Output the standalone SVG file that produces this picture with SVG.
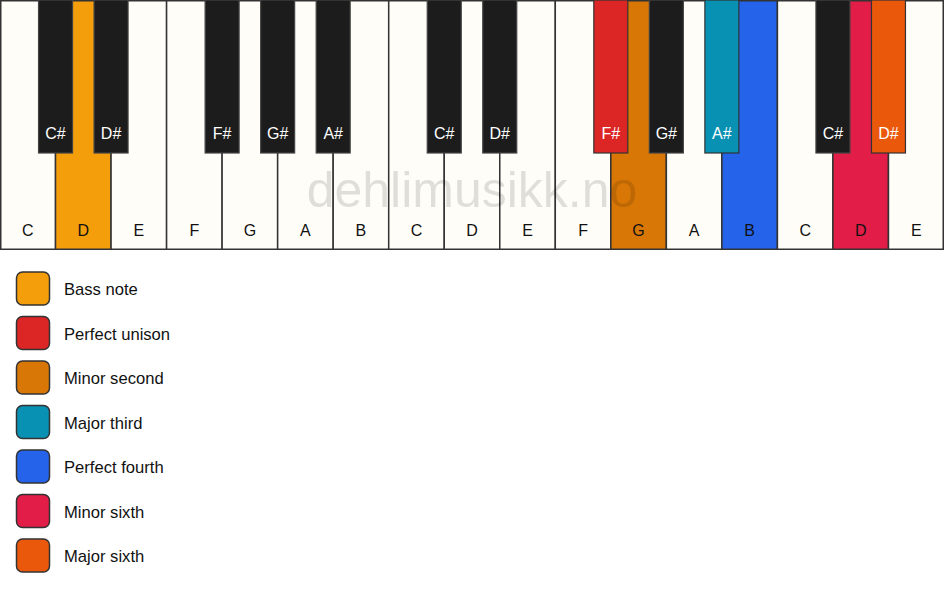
<svg xmlns="http://www.w3.org/2000/svg" width="944" height="594" viewBox="0 0 944 594">
<style>
.w{fill:#fffdf8;stroke:#333;stroke-width:1.5}
.b{fill:#1c1c1c;stroke:#444;stroke-width:1.2}
.wl{font-family:"Liberation Sans",Arial,sans-serif;font-size:16px;fill:#111;text-anchor:middle}
.bl{font-family:"Liberation Sans",Arial,sans-serif;font-size:16px;fill:#fff;text-anchor:middle}
.lg{stroke:#333;stroke-width:1.5}
.lt{font-family:"Liberation Sans",Arial,sans-serif;font-size:16.6px;fill:#111}
</style>
<rect width="944" height="594" fill="#fff"/>
<g id="white-keys">
<g id="w0"><rect class="w" x="0.75" y="0.75" width="54.78" height="248.5"/><text class="wl" x="27.76" y="236">C</text></g>
<g id="w1"><rect class="w" x="55.53" y="0.75" width="55.53" height="248.5" style="fill:#f59e0b"/><text class="wl" x="83.29" y="236">D</text></g>
<g id="w2"><rect class="w" x="111.06" y="0.75" width="55.53" height="248.5"/><text class="wl" x="138.82" y="236">E</text></g>
<g id="w3"><rect class="w" x="166.59" y="0.75" width="55.53" height="248.5"/><text class="wl" x="194.35" y="236">F</text></g>
<g id="w4"><rect class="w" x="222.12" y="0.75" width="55.53" height="248.5"/><text class="wl" x="249.88" y="236">G</text></g>
<g id="w5"><rect class="w" x="277.65" y="0.75" width="55.53" height="248.5"/><text class="wl" x="305.41" y="236">A</text></g>
<g id="w6"><rect class="w" x="333.18" y="0.75" width="55.53" height="248.5"/><text class="wl" x="360.94" y="236">B</text></g>
<g id="w7"><rect class="w" x="388.71" y="0.75" width="55.53" height="248.5"/><text class="wl" x="416.47" y="236">C</text></g>
<g id="w8"><rect class="w" x="444.24" y="0.75" width="55.53" height="248.5"/><text class="wl" x="472" y="236">D</text></g>
<g id="w9"><rect class="w" x="499.76" y="0.75" width="55.53" height="248.5"/><text class="wl" x="527.53" y="236">E</text></g>
<g id="w10"><rect class="w" x="555.29" y="0.75" width="55.53" height="248.5"/><text class="wl" x="583.06" y="236">F</text></g>
<g id="w11"><rect class="w" x="610.82" y="0.75" width="55.53" height="248.5" style="fill:#d97706"/><text class="wl" x="638.59" y="236">G</text></g>
<g id="w12"><rect class="w" x="666.35" y="0.75" width="55.53" height="248.5"/><text class="wl" x="694.12" y="236">A</text></g>
<g id="w13"><rect class="w" x="721.88" y="0.75" width="55.53" height="248.5" style="fill:#2563eb"/><text class="wl" x="749.65" y="236">B</text></g>
<g id="w14"><rect class="w" x="777.41" y="0.75" width="55.53" height="248.5"/><text class="wl" x="805.18" y="236">C</text></g>
<g id="w15"><rect class="w" x="832.94" y="0.75" width="55.53" height="248.5" style="fill:#e11d48"/><text class="wl" x="860.71" y="236">D</text></g>
<g id="w16"><rect class="w" x="888.47" y="0.75" width="54.78" height="248.5"/><text class="wl" x="916.24" y="236">E</text></g>
</g>
<g id="black-keys">
<g id="b0"><rect class="b" x="38.53" y="0" width="34" height="153"/><text class="bl" x="55.53" y="139">C#</text></g>
<g id="b1"><rect class="b" x="94.06" y="0" width="34" height="153"/><text class="bl" x="111.06" y="139">D#</text></g>
<g id="b3"><rect class="b" x="205.12" y="0" width="34" height="153"/><text class="bl" x="222.12" y="139">F#</text></g>
<g id="b4"><rect class="b" x="260.65" y="0" width="34" height="153"/><text class="bl" x="277.65" y="139">G#</text></g>
<g id="b5"><rect class="b" x="316.18" y="0" width="34" height="153"/><text class="bl" x="333.18" y="139">A#</text></g>
<g id="b7"><rect class="b" x="427.24" y="0" width="34" height="153"/><text class="bl" x="444.24" y="139">C#</text></g>
<g id="b8"><rect class="b" x="482.76" y="0" width="34" height="153"/><text class="bl" x="499.76" y="139">D#</text></g>
<g id="b10"><rect class="b" x="593.82" y="0" width="34" height="153" style="fill:#dc2626;stroke:#333"/><text class="bl" x="610.82" y="139">F#</text></g>
<g id="b11"><rect class="b" x="649.35" y="0" width="34" height="153"/><text class="bl" x="666.35" y="139">G#</text></g>
<g id="b12"><rect class="b" x="704.88" y="0" width="34" height="153" style="fill:#0891b2;stroke:#333"/><text class="bl" x="721.88" y="139">A#</text></g>
<g id="b14"><rect class="b" x="815.94" y="0" width="34" height="153"/><text class="bl" x="832.94" y="139">C#</text></g>
<g id="b15"><rect class="b" x="871.47" y="0" width="34" height="153" style="fill:#ea580c;stroke:#333"/><text class="bl" x="888.47" y="139">D#</text></g>
</g>
<text id="watermark" x="472" y="207" font-family="Liberation Sans,Arial,sans-serif" font-size="50" text-anchor="middle" fill="#000" fill-opacity="0.12">dehlimusikk.no</text>
<g id="legend">
<g id="l0"><rect class="lg" x="16.5" y="272" width="33" height="33" rx="6" fill="#f59e0b"/><text class="lt" x="64" y="295">Bass note</text></g>
<g id="l1"><rect class="lg" x="16.5" y="316.5" width="33" height="33" rx="6" fill="#dc2626"/><text class="lt" x="64" y="339.5">Perfect unison</text></g>
<g id="l2"><rect class="lg" x="16.5" y="361" width="33" height="33" rx="6" fill="#d97706"/><text class="lt" x="64" y="384">Minor second</text></g>
<g id="l3"><rect class="lg" x="16.5" y="405.5" width="33" height="33" rx="6" fill="#0891b2"/><text class="lt" x="64" y="428.5">Major third</text></g>
<g id="l4"><rect class="lg" x="16.5" y="450" width="33" height="33" rx="6" fill="#2563eb"/><text class="lt" x="64" y="473">Perfect fourth</text></g>
<g id="l5"><rect class="lg" x="16.5" y="494.5" width="33" height="33" rx="6" fill="#e11d48"/><text class="lt" x="64" y="517.5">Minor sixth</text></g>
<g id="l6"><rect class="lg" x="16.5" y="539" width="33" height="33" rx="6" fill="#ea580c"/><text class="lt" x="64" y="562">Major sixth</text></g>
</g>
</svg>
